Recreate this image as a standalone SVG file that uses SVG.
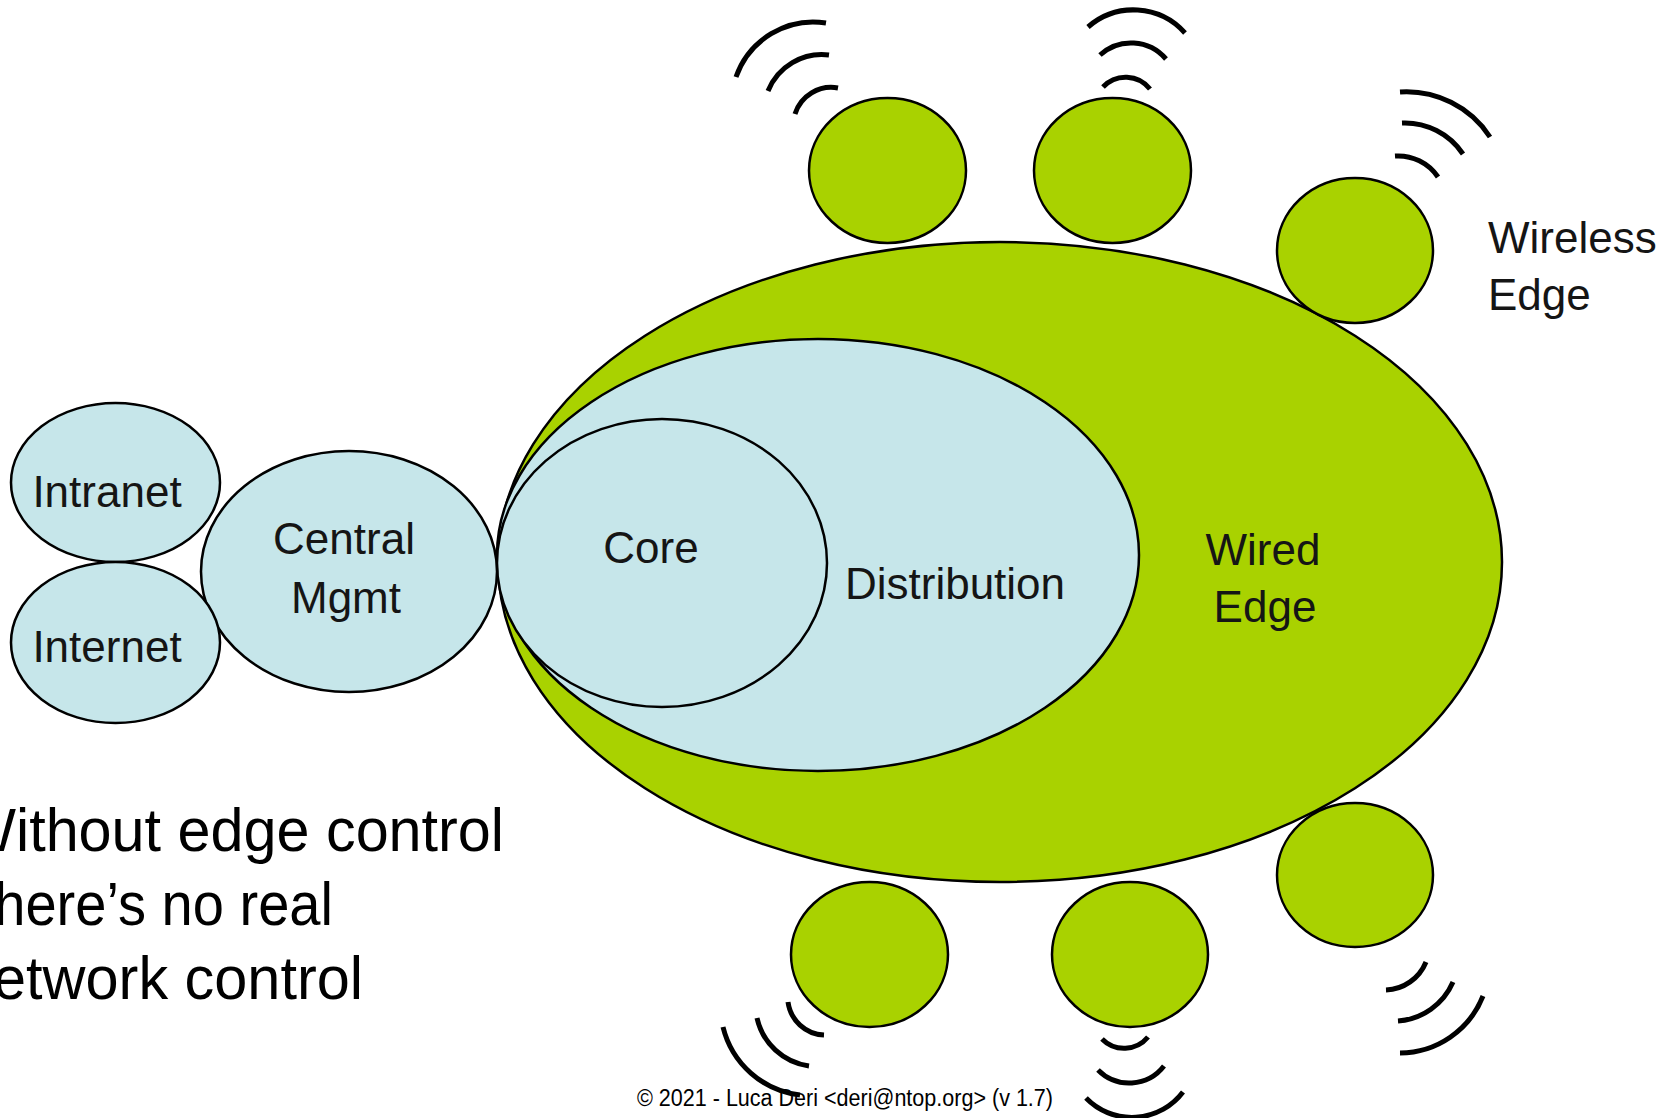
<svg xmlns="http://www.w3.org/2000/svg" width="1666" height="1118" viewBox="0 0 1666 1118">
<style>
.green{fill:#A9D200;stroke:#000;stroke-width:2.5}
.blue{fill:#C6E6EA;stroke:#000;stroke-width:2.5}
.lbl{font-family:"Liberation Sans",Arial,sans-serif;font-size:44px;fill:#151515}
.big{font-family:"Liberation Sans",Arial,sans-serif;font-size:62px;fill:#000}
.foot{font-family:"Liberation Sans",Arial,sans-serif;font-size:23px;fill:#000}
.sig{fill:none;stroke:#000;stroke-width:5}
</style>
<rect width="1666" height="1118" fill="#fff"/>
<g id="wired-edge">
<ellipse class="green" cx="1000" cy="562" rx="502" ry="320"/>
<text class="lbl" x="1263" y="565" text-anchor="middle">Wired</text>
<text class="lbl" x="1265" y="622" text-anchor="middle">Edge</text>
</g>
<g id="distribution">
<ellipse class="blue" cx="818" cy="555" rx="321" ry="216"/>
<text class="lbl" x="955" y="599" text-anchor="middle">Distribution</text>
</g>
<g id="core">
<ellipse class="blue" cx="662" cy="563" rx="165" ry="144"/>
<text class="lbl" x="651" y="563" text-anchor="middle">Core</text>
</g>
<g id="central-mgmt">
<ellipse class="blue" cx="349" cy="571.5" rx="148" ry="120.5"/>
<text class="lbl" x="344" y="554" text-anchor="middle">Central</text>
<text class="lbl" x="346" y="613" text-anchor="middle">Mgmt</text>
</g>
<g id="intranet">
<ellipse class="blue" cx="115.5" cy="482.5" rx="104.5" ry="79.5"/>
<text class="lbl" x="107" y="507" text-anchor="middle" font-size="43">Intranet</text>
</g>
<g id="internet">
<ellipse class="blue" cx="115.5" cy="642.5" rx="104.5" ry="80.5"/>
<text class="lbl" x="107" y="662" text-anchor="middle" font-size="43">Internet</text>
</g>
<g id="wireless-1"><ellipse class="green" cx="887.5" cy="170.5" rx="78.5" ry="72.5"/></g>
<g id="wireless-2"><ellipse class="green" cx="1112.5" cy="170.5" rx="78.5" ry="72.5"/></g>
<g id="wireless-3"><ellipse class="green" cx="1355" cy="250.5" rx="78" ry="72.5"/></g>
<g id="wireless-4"><ellipse class="green" cx="1355" cy="875" rx="78" ry="72"/></g>
<g id="wireless-5"><ellipse class="green" cx="869.5" cy="954.5" rx="78.5" ry="72.5"/></g>
<g id="wireless-6"><ellipse class="green" cx="1130" cy="954.5" rx="78" ry="72.5"/></g>
<g id="wireless-label">
<text class="lbl" x="1488" y="253">Wireless</text>
<text class="lbl" x="1488" y="310">Edge</text>
</g>
<g id="connectors">
<path class="sig" d="M736,77 A82,82 0 0 1 826,23"/>
<path class="sig" d="M768,91 A58,58 0 0 1 829,55"/>
<path class="sig" d="M795,114 A38,38 0 0 1 838,88"/>
<path class="sig" d="M1088,27 A69,69 0 0 1 1185,33"/>
<path class="sig" d="M1100,55 A46,46 0 0 1 1166,59"/>
<path class="sig" d="M1103,87 A31,31 0 0 1 1150,89"/>
<path class="sig" d="M1400,92 A100,100 0 0 1 1490,137"/>
<path class="sig" d="M1402,123 A70,70 0 0 1 1463,154"/>
<path class="sig" d="M1395,156 A48,48 0 0 1 1438,177"/>
<path class="sig" d="M1386,990 A45,45 0 0 0 1426,962"/>
<path class="sig" d="M1398,1021 A65,65 0 0 0 1453,982"/>
<path class="sig" d="M1400,1053 A90,90 0 0 0 1483,996"/>
<path class="sig" d="M788,1002 A38,38 0 0 0 824,1035"/>
<path class="sig" d="M757,1018 A62,62 0 0 0 809,1066"/>
<path class="sig" d="M723,1027 A90,90 0 0 0 800,1095"/>
<path class="sig" d="M1102,1039 A31,31 0 0 0 1148,1037"/>
<path class="sig" d="M1098,1070 A44,44 0 0 0 1164,1066"/>
<path class="sig" d="M1086,1098 A64,64 0 0 0 1183,1092"/>
</g>
<g id="caption">
<text class="big" x="-40" y="851" textLength="544" lengthAdjust="spacingAndGlyphs">Without edge control</text>
<text class="big" x="-40" y="925" textLength="373" lengthAdjust="spacingAndGlyphs">There’s no real</text>
<text class="big" x="-40" y="999" textLength="403" lengthAdjust="spacingAndGlyphs">network control</text>
</g>
<text class="foot" x="637" y="1106" textLength="416" lengthAdjust="spacingAndGlyphs">© 2021 - Luca Deri &lt;deri@ntop.org&gt; (v 1.7)</text>
</svg>
